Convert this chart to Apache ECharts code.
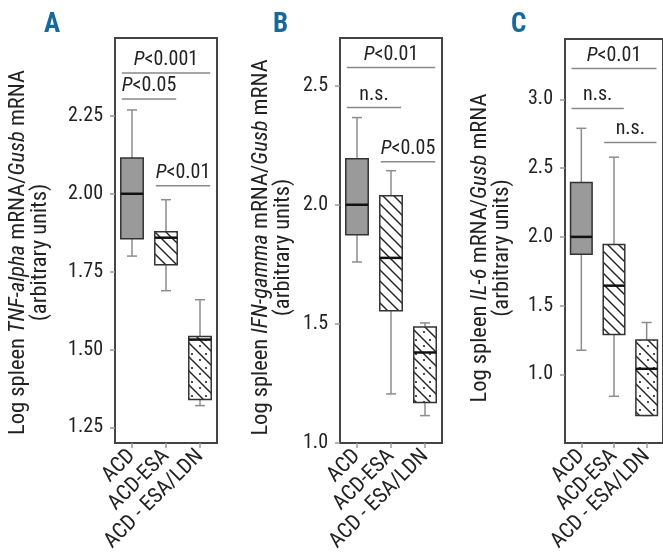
<!DOCTYPE html>
<html><head><meta charset="utf-8">
<script src="https://cdn.jsdelivr.net/npm/echarts@6/dist/echarts.min.js"></script>
<style>html,body{margin:0;padding:0;background:#fff}#c{width:663px;height:556px}</style>
</head><body><div id="c"></div>
<script>
// ---- data ----
const categories = ['ACD', 'ACD-ESA', 'ACD - ESA/LDN'];
// [low whisker, Q1, median, Q3, high whisker]
const boxA = [[1.80, 1.856, 2.00, 2.115, 2.269], [1.689, 1.772, 1.859, 1.878, 1.981], [1.32, 1.34, 1.532, 1.542, 1.66]];
const boxB = [[1.76, 1.874, 2.00, 2.193, 2.366], [1.206, 1.555, 1.777, 2.038, 2.143], [1.115, 1.17, 1.38, 1.487, 1.504]];
const boxC = [[1.175, 1.873, 2.00, 2.396, 2.79], [0.84, 1.29, 1.645, 1.945, 2.58], [0.70, 0.70, 1.04, 1.25, 1.377]];
const ticksA = [1.25, 1.50, 1.75, 2.00, 2.25];
const ticksB = [1.0, 1.5, 2.0, 2.5];
const ticksC = [1.0, 1.5, 2.0, 2.5, 3.0];
// significance bars: [from category, to category, y]
const sigA = [[0, 2, 2.388], [0, 1, 2.304], [1, 2, 2.026]];
const sigTextA = ['P<0.001', 'P<0.05', 'P<0.01'];
const sigB = [[0, 2, 2.576], [0, 1, 2.408], [1, 2, 2.181]];
const sigTextB = ['P<0.01', 'n.s.', 'P<0.05'];
const sigC = [[0, 2, 3.225], [0, 1, 2.935], [1, 2, 2.687]];
const sigTextC = ['P<0.01', 'n.s.', 'n.s.'];
const genes = ['TNF-alpha', 'IFN-gamma', 'IL-6'];
const letters = ['A', 'B', 'C'];

// ---- patterns ----
function hatch(dots) {
  const s = dots ? 14 : 11;
  const cv = document.createElement('canvas');
  cv.width = s; cv.height = s;
  const g = cv.getContext('2d');
  g.fillStyle = '#fff'; g.fillRect(0, 0, s, s);
  g.strokeStyle = '#222'; g.lineWidth = 1.4;
  g.beginPath();
  g.moveTo(-2, -2); g.lineTo(s + 2, s + 2);
  g.moveTo(-2, s - 2); g.lineTo(2, s + 2);
  g.moveTo(s - 2, -2); g.lineTo(s + 2, 2);
  g.stroke();
  if (dots) {
    g.fillStyle = '#222';
    g.beginPath(); g.arc(10, 4, 1.1, 0, Math.PI * 2); g.fill();
    g.beginPath(); g.arc(4, 10, 1.1, 0, Math.PI * 2); g.fill();
  }
  return { image: cv, repeat: 'repeat' };
}
const fills = ['#9a9a9a', hatch(false), hatch(true)];

const FONT = '"Liberation Sans Narrow","Roboto Condensed","DejaVu Sans Condensed",sans-serif';
const lefts = [115, 340, 565];
const nameGaps = [64, 46, 52];
const namePads = [24, 14, 14];
const ranges = [[1.2, 2.5], [1.0, 2.7], [0.5, 3.44]];
const tickSets = [ticksA, ticksB, ticksC];
const boxes = [boxA, boxB, boxC];
const sigs = [sigA, sigB, sigC];
const sigTexts = [sigTextA, sigTextB, sigTextC];
const decimals = [2, 1, 1];
const NF = 22.5;

const grid = [], xAxis = [], yAxis = [], series = [], graphic = [];
for (let p = 0; p < 3; p++) {
  grid.push({ left: lefts[p], top: p === 2 ? 39 : 38, width: 102, height: p === 2 ? 404 : 405,
    show: true, borderColor: '#444', borderWidth: 2, backgroundColor: 'transparent' });
  xAxis.push({ type: 'category', gridIndex: p, data: categories,
    axisLine: { show: false },
    axisTick: { show: true, alignWithLabel: true, length: 5, lineStyle: { color: '#999', width: 1.5 } },
    axisLabel: { interval: 0, rotate: 45, margin: 10, fontFamily: FONT, fontSize: 21.5, color: '#222' } });
  const d = decimals[p];
  yAxis.push({ type: 'value', gridIndex: p, min: ranges[p][0], max: ranges[p][1],
    splitLine: { show: false }, axisLine: { show: false },
    axisTick: { show: true, length: 5, customValues: tickSets[p], lineStyle: { color: '#999', width: 1.5 } },
    axisLabel: { customValues: tickSets[p], margin: 12, fontFamily: FONT, fontSize: 20, color: '#222',
      formatter: v => v.toFixed(d) },
    name: '{n|Log spleen }{i|' + genes[p] + '}{n| mRNA/}{i|Gusb}{n| mRNA}\n{n|(arbitrary units)}',
    nameLocation: 'middle', nameRotate: 90, nameGap: nameGaps[p],
    nameTextStyle: { fontFamily: FONT, fontSize: NF, color: '#222', lineHeight: 22, padding: [0, namePads[p], 0, 0],
      rich: { n: { fontFamily: FONT, fontSize: NF, color: '#222', lineHeight: 22 },
              i: { fontFamily: FONT, fontSize: NF, color: '#222', fontStyle: 'italic', lineHeight: 22 } } } });

  const bx = boxes[p];
  series.push({ type: 'custom', xAxisIndex: p, yAxisIndex: p,
    data: bx.map((b, i) => [i].concat(b)),
    renderItem: function (params, api) {
      const i = api.value(0);
      const bw = api.size([1, 0])[0];
      const half = bw * 0.33, cap = 5;
      const pl = api.coord([i, api.value(1)]);
      const p1 = api.coord([i, api.value(2)]);
      const pm = api.coord([i, api.value(3)]);
      const p3 = api.coord([i, api.value(4)]);
      const ph = api.coord([i, api.value(5)]);
      const x = pl[0];
      const wl = { stroke: '#8c8c8c', lineWidth: 1.5 };
      return { type: 'group', children: [
        { type: 'line', shape: { x1: x, y1: ph[1], x2: x, y2: p3[1] }, style: wl },
        { type: 'line', shape: { x1: x, y1: p1[1], x2: x, y2: pl[1] }, style: wl },
        { type: 'line', shape: { x1: x - cap, y1: ph[1], x2: x + cap, y2: ph[1] }, style: wl },
        { type: 'line', shape: { x1: x - cap, y1: pl[1], x2: x + cap, y2: pl[1] }, style: wl },
        { type: 'rect', shape: { x: x - half, y: p3[1], width: half * 2, height: p1[1] - p3[1] },
          style: { fill: fills[params.dataIndex], stroke: '#333', lineWidth: 1.5 } },
        { type: 'line', shape: { x1: x - half, y1: pm[1], x2: x + half, y2: pm[1] },
          style: { stroke: '#111', lineWidth: 2.5 } }
      ] };
    } });

  const sg = sigs[p], st = sigTexts[p];
  series.push({ type: 'custom', xAxisIndex: p, yAxisIndex: p,
    data: sg,
    renderItem: function (params, api) {
      const bw = api.size([1, 0])[0];
      const a = api.coord([api.value(0), api.value(2)]);
      const b = api.coord([api.value(1), api.value(2)]);
      const x1 = a[0] - bw * 0.3, x2 = b[0] + bw * 0.3;
      const t = st[params.dataIndex];
      const txt = t.startsWith('P') ? '{i|P}{n|' + t.slice(1) + '}' : '{n|' + t + '}';
      return { type: 'group', children: [
        { type: 'line', shape: { x1: x1, y1: a[1], x2: x2, y2: a[1] }, style: { stroke: '#888', lineWidth: 1.5 } },
        { type: 'text', x: (x1 + x2) / 2, y: a[1] - 3,
          style: { text: txt, align: 'center', verticalAlign: 'bottom',
            rich: { i: { fontFamily: FONT, fontSize: 20, fontStyle: 'italic', fill: '#222' },
                    n: { fontFamily: FONT, fontSize: 20, fill: '#222' } } } }
      ] };
    } });
}
graphic.push({ type: 'text', left: 44, top: 12, style: { text: 'A', font: 'bold 27px ' + FONT, fill: '#17699a' } });
graphic.push({ type: 'text', left: 273, top: 12, style: { text: 'B', font: 'bold 27px ' + FONT, fill: '#17699a' } });
graphic.push({ type: 'text', left: 511, top: 12, style: { text: 'C', font: 'bold 27px ' + FONT, fill: '#17699a' } });

const chart = echarts.init(document.getElementById('c'), null, { renderer: 'canvas' });
chart.setOption({ animation: false, backgroundColor: '#fff', grid, xAxis, yAxis, series, graphic });
</script></body></html>
